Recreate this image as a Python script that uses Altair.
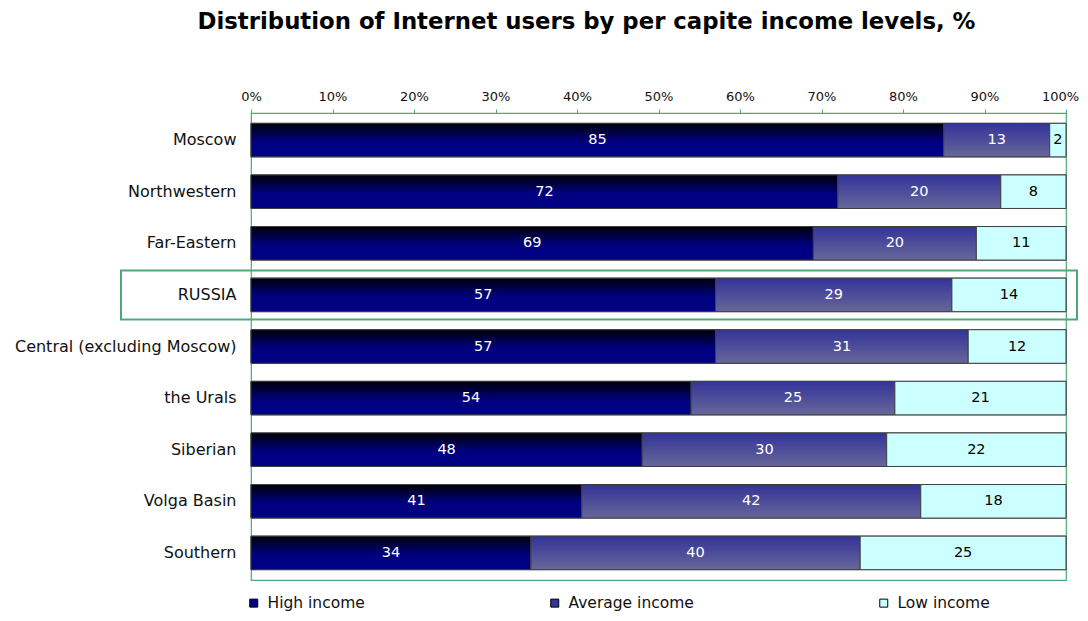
import altair as alt
import pandas as pd

title_text = "Distribution of Internet users by per capite income levels, %"
regions = ["Moscow", "Northwestern", "Far-Eastern", "RUSSIA",
           "Central (excluding Moscow)", "the Urals", "Siberian",
           "Volga Basin", "Southern"]
series = ["High income", "Average income", "Low income"]
high = [85, 72, 69, 57, 57, 54, 48, 41, 34]
average = [13, 20, 20, 29, 31, 25, 30, 42, 40]
low = [2, 8, 11, 14, 12, 21, 22, 18, 25]
highlight = ["RUSSIA"]
tick_values = [0, 0.1, 0.2, 0.3, 0.4, 0.5, 0.6, 0.7, 0.8, 0.9, 1.0]

rows = []
for i, r in enumerate(regions):
    vals = [high[i], average[i], low[i]]
    total = sum(vals)
    acc = 0
    for s, v in zip(series, vals):
        start = acc / total
        acc += v
        end = acc / total
        rows.append({"region": r, "series": s, "value": v,
                     "start": start, "end": end, "mid": (start + end) / 2})
df = pd.DataFrame(rows)
hl = pd.DataFrame({"region": highlight})

GREEN = "#4FA877"
FONT = "DejaVu Sans"

grad_high = {"gradient": "linear", "x1": 0, "x2": 0, "y1": 0, "y2": 1,
             "stops": [{"offset": 0, "color": "#000008"},
                       {"offset": 0.55, "color": "#000080"},
                       {"offset": 1, "color": "#000084"}]}
grad_avg = {"gradient": "linear", "x1": 0, "x2": 0, "y1": 0, "y2": 1,
            "stops": [{"offset": 0, "color": "#333399"},
                      {"offset": 1, "color": "#67679A"}]}

yenc = alt.Y("region:N", sort=regions,
             scale=alt.Scale(domain=regions, paddingInner=0.35, paddingOuter=0.2),
             axis=alt.Axis(title=None, domain=False, ticks=False, labelPadding=15,
                           labelFont=FONT, labelFontSize=16, labelColor="#111111",
                           labelLimit=400))
xenc = alt.X("start:Q", scale=alt.Scale(domain=[0, 1], nice=False),
             axis=alt.Axis(orient="top", title=None, values=tick_values, format=".0%",
                           grid=False, domainColor=GREEN, tickColor=GREEN, tickSize=4,
                           labelPadding=6, labelFont=FONT, labelFontSize=13,
                           labelColor="#111111", labelOverlap=False, labelFlush=False,
                           labelOffset={"condition": {"test": "datum.value === 1",
                                                      "value": -6},
                                        "value": 0}))

base = alt.Chart(df).mark_bar(stroke="#404040", strokeWidth=1).encode(
    x=xenc, x2="end:Q", y=yenc,
    color=alt.Color("series:N",
                    scale=alt.Scale(domain=series, range=["#000080", "#333399", "#CCFFFF"]),
                    legend=alt.Legend(title=None, orient="none", legendX=-5, legendY=482,
                                      direction="horizontal", columns=3, columnPadding=182,
                                      symbolType="square", symbolSize=64,
                                      symbolStrokeColor="#000000", symbolStrokeWidth=1,
                                      labelFont=FONT, labelFontSize=15.5, labelOffset=6,
                                      labelColor="#111111")))

overlay = alt.Chart(df).mark_bar(stroke="#404040", strokeWidth=1).encode(
    x="start:Q", x2="end:Q", y=alt.Y("region:N", sort=regions),
    fill=alt.FillValue(value="#CCFFFF", condition=[
        {"test": "datum.series === 'High income'", "value": grad_high},
        {"test": "datum.series === 'Average income'", "value": grad_avg},
    ]))

labels = alt.Chart(df).mark_text(font=FONT, fontSize=14.5, baseline="middle",
                                 align="center").encode(
    x="mid:Q", y=alt.Y("region:N", sort=regions), text="value:Q",
    color=alt.condition("datum.series === 'Low income'", alt.value("#000000"),
                        alt.value("#FFFFFF")))

box = alt.Chart(hl).mark_bar(filled=False, stroke=GREEN, strokeWidth=2, height=49).encode(
    x=alt.value(-130), x2=alt.value(826), y=alt.Y("region:N", sort=regions))

chart = alt.layer(base, overlay, labels, box).properties(
    width=815, height=467,
    autosize=alt.AutoSizeParams(type="none"),
    padding={"left": 243, "top": 105, "right": 14, "bottom": 31},
    title=alt.TitleParams(title_text, font=FONT, fontSize=22.8, fontWeight="bold",
                          anchor="middle", frame="group", dx=-72, offset=56,
                          color="#000000"),
).configure(background="white",
            view=alt.ViewConfig(stroke=GREEN, strokeWidth=1.2))

chart.save("out.html", embed_options={"renderer": "svg", "actions": False})
